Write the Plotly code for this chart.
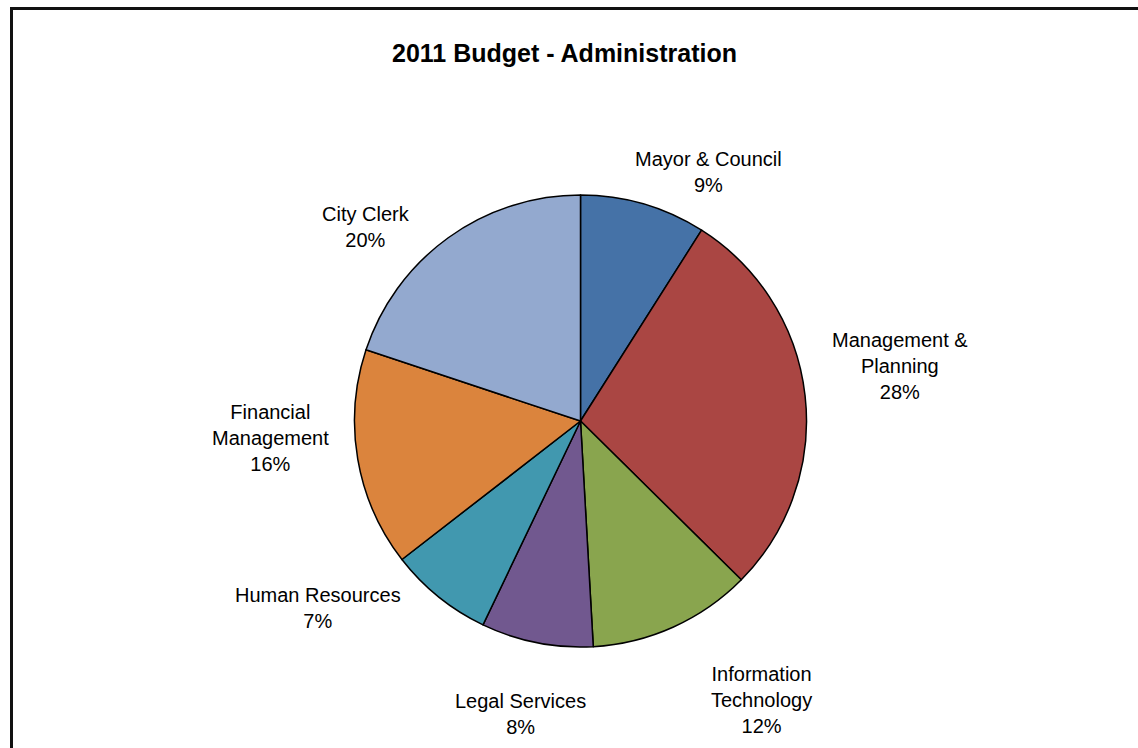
import math
import plotly.graph_objects as go

# Budget shares by department (percent of administration budget)
departments = ["Mayor & Council", "Management &<br>Planning", "Information<br>Technology",
               "Legal Services", "Human Resources", "Financial<br>Management", "City Clerk"]
shares = [9.0, 28.4, 11.7, 8.0, 7.4, 15.6, 19.9]
colors = ["#4572A7", "#AA4643", "#89A54E", "#71588F", "#4198AF", "#DB843D", "#93A9CF"]
title_text = "2011 Budget - Administration"

W, H = 1138, 748
CX, CY, R = 580.5, 421.0, 226.0   # pie centre and radius in pixels
LABEL_GAP = 25.0
FONT = "Liberation Sans, Arial, sans-serif"

# Hand nudges (px, right / down) so labels sit clear of each other like a best-fit layout
label_nudge = [(-18, 18), (0, -27), (25, 11), (-11, 21), (-20, -34), (-2, -25), (-22, 36)]

fig = go.Figure(go.Pie(
    labels=departments,
    values=shares,
    sort=False,
    direction="clockwise",
    rotation=0,
    marker=dict(colors=colors, line=dict(color="#000000", width=1.5)),
    textinfo="none",
    hoverinfo="label+percent",
    showlegend=False,
    domain=dict(x=[(CX - R) / W, (CX + R) / W], y=[1 - (CY + R) / H, 1 - (CY - R) / H]),
))

# Outside labels placed along each slice's mid angle
total = sum(shares)
cum = 0.0
for name, v, (dx, dy) in zip(departments, shares, label_nudge):
    mid = (cum + v / 2) / total * 2 * math.pi
    cum += v
    s, c = math.sin(mid), math.cos(mid)
    px = CX + (R + LABEL_GAP) * s
    py = CY - (R + LABEL_GAP) * c
    xa = "left" if s > 0.2 else ("right" if s < -0.2 else "center")
    ya = "bottom" if c > 0.2 else ("top" if c < -0.2 else "middle")
    fig.add_annotation(
        x=px / W, y=1 - py / H, xref="paper", yref="paper",
        xshift=dx, yshift=-dy,
        text=f"{name}<br>{v / total * 100:.0f}%",
        showarrow=False, xanchor=xa, yanchor=ya, align="center",
        font=dict(family=FONT, size=20, color="#000000"),
    )

fig.add_annotation(
    x=564 / W, y=1 - 53 / H, xref="paper", yref="paper",
    text=f"<b>{title_text}</b>", showarrow=False,
    xanchor="center", yanchor="middle",
    font=dict(family=FONT, size=25, color="#000000"),
)

# Chart frame
fig.add_shape(type="rect", xref="paper", yref="paper",
              x0=11.5 / W, x1=1.05, y0=-0.05, y1=1 - 8.5 / H,
              line=dict(color="#111111", width=3), fillcolor="rgba(0,0,0,0)")

fig.update_layout(
    width=W, height=H,
    margin=dict(l=0, r=0, t=0, b=0),
    paper_bgcolor="#FFFFFF", plot_bgcolor="#FFFFFF",
)

fig.write_html("out.html")
